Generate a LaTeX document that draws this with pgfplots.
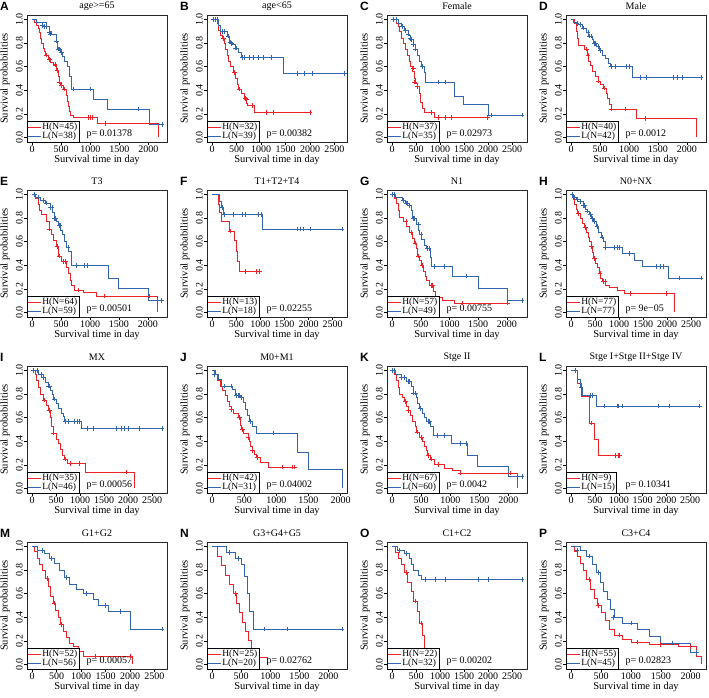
\documentclass[border=0pt]{standalone}
\usepackage{pgfplots}
\pgfplotsset{compat=1.18}
\usepackage{fontspec}
\setmainfont{Liberation Serif}
\newfontfamily\lsans{Liberation Sans}
\definecolor{kmred}{RGB}{235,35,40}
\definecolor{kmblue}{RGB}{50,100,175}
\pgfplotsset{
 km/.style={
  scale only axis, width=140pt, height=127pt, anchor=north west,
  ymin=-0.04, ymax=1.04, ytick={0,0.2,0.4,0.6,0.8,1},
  /pgf/number format/assume math mode=true,
  yticklabel style={rotate=90, anchor=south, inner sep=1pt, /pgf/number format/.cd, fixed, fixed zerofill, precision=1},
  xticklabel style={inner sep=0.5pt, /pgf/number format/.cd, 1000 sep={}},
  ticklabel style={font=\fontsize{10}{10}\selectfont},
  tick align=outside, xtick pos=bottom, ytick pos=left, major tick length=3pt,
  tick style={black, line width=0.5pt},
  axis line style={line width=0.6pt, black!85},
  clip=false,
  title style={font=\fontsize{10}{10}\selectfont, at={(axis description cs:0.5,1)}, anchor=center, yshift=3pt},
  xlabel={Survival time in day}, ylabel={Survival probabilities},
  label style={font=\fontsize{10.5}{10.5}\selectfont},
  xlabel style={at={(axis description cs:0.5,0)}, anchor=center, yshift=-18pt},
  ylabel style={at={(axis description cs:0,0.5)}, anchor=center, yshift=22pt},
  legend style={at={(0,0)}, anchor=south west, draw=black, fill=white, font=\fontsize{9.5}{9.5}\selectfont, inner sep=0.5pt, row sep=-1pt, nodes={inner sep=1pt}, cells={anchor=west}},
  legend image code/.code={\draw[#1] (0pt,0pt) -- (13pt,0pt);},
  every axis plot/.append style={line width=0.6pt},
 },
 hr/.style={color=kmred, draw=kmred, const plot},
 hb/.style={color=kmblue, draw=kmblue, const plot},
 mr/.style={kmred, only marks, mark=+, mark size=2.3pt, forget plot},
 mb/.style={kmblue, only marks, mark=+, mark size=2.3pt, forget plot},
 xa/.style={xtick={0,500,1000,1500,2000}},
 xb/.style={xtick={0,500,1000,1500,2000,2500}},
}
\newcommand{\pval}[1]{\node[anchor=west, font=\fontsize{10}{10}\selectfont] at (rel axis cs:0.4,0.06) {#1};}
\newcommand{\plab}[1]{\node[anchor=west, inner sep=0pt, font=\lsans\bfseries\fontsize{12}{12}\selectfont, xshift=-27pt, yshift=9pt] at (rel axis cs:0,1) {#1};}
\begin{document}
\begin{tikzpicture}
\useasboundingbox (0,0) rectangle (709pt,-698pt);
% ---------------- A
\begin{axis}[km, xa, at={(27pt,-15pt)}, xmin=-89, xmax=2319, title={age>=65}]
\addplot[hr] coordinates {(0,1)(45,0.975)(75,0.95)(100,0.93)(120,0.89)(140,0.84)(160,0.80)(185,0.76)(210,0.73)(230,0.70)(270,0.67)(320,0.64)(370,0.61)(420,0.57)(455,0.52)(470,0.47)(490,0.44)(540,0.41)(580,0.36)(600,0.31)(620,0.26)(640,0.22)(660,0.19)(700,0.17)(1120,0.115)(2170,0.0)};
\addlegendentry{H(N=45)}
\addplot[hb] coordinates {(0,1)(70,0.975)(250,0.94)(290,0.90)(330,0.88)(410,0.82)(430,0.76)(490,0.72)(520,0.69)(560,0.65)(600,0.60)(640,0.52)(670,0.41)(1050,0.32)(1300,0.24)(2020,0.11)(2230,0.11)};
\addlegendentry{L(N=38)}
\addplot[mr] coordinates {(250,0.70)(300,0.66)(390,0.62)(430,0.57)(470,0.47)(500,0.44)(560,0.41)(960,0.17)(1000,0.17)(1030,0.17)(1250,0.115)};
\addplot[mb] coordinates {(170,0.95)(200,0.94)(240,0.94)(300,0.89)(320,0.88)(420,0.82)(450,0.75)(470,0.75)(500,0.72)(700,0.41)(1000,0.41)(1820,0.24)(2230,0.11)};
\pval{p= 0.01378}\plab{A}
\end{axis}
% ---------------- B
\begin{axis}[km, xb, at={(207pt,-15pt)}, xmin=-106, xmax=2756, title={age<65}]
\addplot[hr] coordinates {(0,1)(100,0.97)(120,0.91)(160,0.87)(200,0.84)(240,0.80)(270,0.75)(300,0.70)(330,0.65)(370,0.60)(430,0.55)(470,0.50)(510,0.45)(540,0.41)(600,0.37)(650,0.33)(700,0.29)(720,0.27)(870,0.21)(2000,0.21)};
\addlegendentry{H(N=32)}
\addplot[hb] coordinates {(0,1)(130,0.95)(170,0.90)(300,0.86)(350,0.81)(420,0.79)(470,0.76)(530,0.72)(590,0.68)(1460,0.54)(2700,0.54)};
\addlegendentry{L(N=39)}
\addplot[mr] coordinates {(230,0.84)(450,0.55)(560,0.41)(680,0.33)(700,0.32)(830,0.27)(1100,0.21)(1250,0.21)(2000,0.21)};
\addplot[mb] coordinates {(30,1)(70,1)(100,1)(200,0.9)(250,0.9)(320,0.86)(370,0.81)(400,0.80)(480,0.76)(500,0.76)(620,0.68)(650,0.68)(760,0.68)(850,0.68)(950,0.68)(1050,0.68)(1200,0.68)(1750,0.54)(1880,0.54)(2050,0.54)(2700,0.54)};
\pval{p= 0.00382}\plab{B}
\end{axis}
% ---------------- C
\begin{axis}[km, xb, at={(387pt,-15pt)}, xmin=-108, xmax=2813, title={Female}]
\addplot[hr] coordinates {(0,1)(80,0.97)(120,0.94)(150,0.90)(190,0.84)(230,0.80)(270,0.75)(310,0.70)(350,0.65)(370,0.60)(430,0.56)(460,0.50)(490,0.46)(520,0.43)(560,0.37)(590,0.30)(620,0.25)(680,0.21)(870,0.17)(2000,0.17)};
\addlegendentry{H(N=37)}
\addplot[hb] coordinates {(0,1)(120,0.97)(200,0.94)(260,0.91)(330,0.87)(380,0.83)(440,0.79)(480,0.75)(520,0.70)(560,0.65)(600,0.60)(660,0.55)(690,0.47)(1300,0.35)(1480,0.28)(2010,0.19)(2705,0.19)};
\addlegendentry{L(N=35)}
\addplot[mr] coordinates {(440,0.59)(470,0.47)(530,0.43)(810,0.21)(960,0.17)(1100,0.17)(1230,0.17)(1990,0.17)};
\addplot[mb] coordinates {(20,1)(80,1)(220,0.94)(280,0.91)(330,0.88)(370,0.84)(400,0.83)(450,0.79)(490,0.75)(620,0.60)(960,0.47)(1100,0.47)(2060,0.19)(2705,0.19)};
\pval{p= 0.02973}\plab{C}
\end{axis}
% ---------------- D
\begin{axis}[km, xa, at={(566pt,-15pt)}, xmin=-90, xmax=2330, title={Male}]
\addplot[hr] coordinates {(0,1)(60,0.97)(90,0.90)(110,0.84)(130,0.78)(230,0.75)(270,0.70)(300,0.65)(330,0.61)(360,0.56)(420,0.52)(460,0.48)(510,0.45)(560,0.42)(600,0.37)(630,0.33)(660,0.28)(690,0.24)(1120,0.16)(2170,0.0)};
\addlegendentry{H(N=40)}
\addplot[hb] coordinates {(0,1)(40,0.98)(100,0.96)(200,0.93)(260,0.89)(300,0.86)(360,0.83)(390,0.80)(440,0.77)(480,0.74)(530,0.70)(590,0.67)(640,0.63)(680,0.60)(1050,0.51)(2240,0.51)};
\addlegendentry{L(N=42)}
\addplot[mr] coordinates {(260,0.75)(290,0.70)(470,0.48)(570,0.42)(700,0.24)(940,0.24)(1280,0.16)};
\addplot[mb] coordinates {(100,0.97)(150,0.96)(210,0.93)(290,0.89)(320,0.86)(340,0.86)(400,0.80)(420,0.80)(460,0.77)(500,0.74)(700,0.60)(760,0.60)(950,0.60)(1000,0.60)(1200,0.51)(1300,0.51)(1770,0.51)(1830,0.51)(1920,0.51)(2240,0.51)};
\pval{p= 0.0012}\plab{D}
\end{axis}
% ---------------- E
\begin{axis}[km, xa, at={(27pt,-190pt)}, xmin=-90, xmax=2330, title={T3}]
\addplot[hr] coordinates {(0,1)(60,0.97)(100,0.92)(130,0.87)(150,0.83)(250,0.77)(290,0.71)(330,0.66)(370,0.61)(420,0.56)(450,0.48)(500,0.43)(590,0.38)(620,0.33)(650,0.27)(680,0.23)(730,0.19)(880,0.17)(1110,0.14)(2170,0.0)};
\addlegendentry{H(N=64)}
\addplot[hb] coordinates {(0,1)(60,0.98)(140,0.95)(230,0.93)(310,0.89)(350,0.85)(380,0.80)(420,0.77)(450,0.74)(490,0.70)(520,0.66)(550,0.60)(590,0.55)(630,0.52)(680,0.40)(1310,0.29)(1480,0.20)(2000,0.10)(2240,0.10)};
\addlegendentry{L(N=59)}
\addplot[mr] coordinates {(300,0.71)(430,0.56)(460,0.48)(540,0.43)(580,0.43)(800,0.19)(1250,0.14)(2030,0.14)};
\addplot[mb] coordinates {(40,1)(100,0.98)(200,0.95)(250,0.93)(320,0.89)(340,0.89)(380,0.80)(400,0.80)(460,0.74)(480,0.74)(620,0.55)(760,0.40)(900,0.40)(950,0.40)(2240,0.10)};
\pval{p= 0.00501}\plab{E}
\end{axis}
% ---------------- F
\begin{axis}[km, xb, at={(207pt,-190pt)}, xmin=-108, xmax=2798, title={T1+T2+T4}]
\addplot[hr] coordinates {(0,1)(120,0.92)(150,0.85)(190,0.77)(360,0.69)(460,0.61)(490,0.52)(530,0.43)(570,0.345)(980,0.345)};
\addlegendentry{H(N=13)}
\addplot[hb] coordinates {(0,1)(150,0.94)(190,0.89)(225,0.83)(1050,0.71)(2690,0.71)};
\addlegendentry{L(N=18)}
\addplot[mr] coordinates {(380,0.69)(690,0.345)(920,0.345)(980,0.345)};
\addplot[mb] coordinates {(200,0.89)(260,0.83)(430,0.83)(630,0.83)(680,0.83)(950,0.83)(1010,0.83)(1760,0.71)(1820,0.71)(1900,0.71)(2040,0.71)(2690,0.71)};
\pval{p= 0.02255}\plab{F}
\end{axis}
% ---------------- G
\begin{axis}[km, xa, at={(387pt,-190pt)}, xmin=-90, xmax=2350, title={N1}]
\addplot[hr] coordinates {(0,1)(40,0.97)(70,0.93)(100,0.87)(130,0.81)(200,0.77)(250,0.73)(300,0.68)(350,0.63)(390,0.59)(420,0.54)(445,0.48)(480,0.44)(510,0.40)(540,0.35)(570,0.31)(600,0.27)(640,0.23)(720,0.18)(760,0.13)(880,0.10)(1080,0.08)(2010,0.08)};
\addlegendentry{H(N=57)}
\addplot[hb] coordinates {(0,1)(60,0.98)(170,0.95)(230,0.93)(290,0.91)(330,0.87)(350,0.80)(420,0.75)(450,0.70)(480,0.66)(510,0.62)(560,0.57)(600,0.54)(660,0.47)(690,0.39)(1040,0.31)(1500,0.20)(2010,0.10)(2260,0.10)};
\addlegendentry{L(N=49)}
\addplot[mr] coordinates {(240,0.77)(330,0.68)(400,0.59)(460,0.48)(520,0.40)(680,0.23)(700,0.23)(1220,0.08)(2010,0.08)};
\addplot[mb] coordinates {(10,1)(30,1)(200,0.95)(240,0.93)(270,0.93)(300,0.91)(360,0.80)(380,0.80)(460,0.75)(500,0.66)(620,0.54)(640,0.54)(740,0.39)(900,0.39)(1300,0.31)(2260,0.10)};
\pval{p= 0.00755}\plab{G}
\end{axis}
% ---------------- H
\begin{axis}[km, xb, at={(566pt,-190pt)}, xmin=-108, xmax=2808, title={N0+NX}]
\addplot[hr] coordinates {(0,1)(40,0.96)(70,0.92)(100,0.88)(130,0.84)(180,0.80)(230,0.76)(280,0.72)(320,0.68)(350,0.64)(380,0.60)(410,0.56)(440,0.51)(460,0.46)(500,0.42)(540,0.38)(580,0.33)(610,0.29)(650,0.26)(720,0.23)(800,0.21)(950,0.19)(1100,0.16)(2150,0.0)};
\addlegendentry{H(N=77)}
\addplot[hb] coordinates {(0,1)(40,0.98)(100,0.96)(180,0.94)(250,0.91)(290,0.88)(330,0.86)(380,0.83)(420,0.80)(460,0.77)(520,0.73)(570,0.68)(620,0.64)(660,0.60)(700,0.55)(1070,0.50)(1310,0.44)(1480,0.39)(2030,0.29)(2700,0.29)};
\addlegendentry{L(N=77)}
\addplot[mr] coordinates {(150,0.84)(300,0.72)(420,0.56)(480,0.46)(600,0.33)(670,0.26)(700,0.26)(1240,0.16)(1990,0.16)};
\addplot[mb] coordinates {(20,1)(60,0.98)(120,0.96)(200,0.94)(250,0.91)(280,0.91)(340,0.86)(400,0.83)(430,0.80)(450,0.80)(480,0.77)(540,0.73)(640,0.64)(720,0.55)(900,0.55)(950,0.55)(1000,0.55)(1200,0.50)(1770,0.39)(1850,0.39)(1920,0.39)(2260,0.29)(2700,0.29)};
\pval{p= 9e−05}\plab{H}
\end{axis}
% ---------------- I
\begin{axis}[km, xb, at={(27pt,-366pt)}, xmin=-108, xmax=2808, title={MX}]
\addplot[hr] coordinates {(0,1)(60,0.97)(90,0.92)(130,0.86)(170,0.80)(230,0.75)(300,0.71)(340,0.66)(370,0.60)(400,0.53)(440,0.47)(500,0.42)(540,0.38)(580,0.33)(620,0.28)(670,0.25)(740,0.21)(1110,0.14)(2130,0.0)};
\addlegendentry{H(N=35)}
\addplot[hb] coordinates {(0,1)(120,0.97)(200,0.94)(280,0.90)(330,0.87)(370,0.83)(410,0.80)(450,0.76)(500,0.72)(550,0.68)(600,0.64)(640,0.61)(670,0.57)(1030,0.51)(2700,0.51)};
\addlegendentry{L(N=46)}
\addplot[mr] coordinates {(250,0.75)(360,0.66)(450,0.47)(700,0.25)(800,0.21)(980,0.21)(1960,0.14)};
\addplot[mb] coordinates {(30,1)(100,1)(200,0.97)(240,0.94)(340,0.87)(360,0.87)(460,0.76)(700,0.57)(750,0.57)(880,0.57)(950,0.57)(990,0.57)(1150,0.51)(1280,0.51)(1750,0.51)(1850,0.51)(1920,0.51)(2000,0.51)(2230,0.51)(2700,0.51)};
\pval{p= 0.00056}\plab{I}
\end{axis}
% ---------------- J
\begin{axis}[km, xa, at={(207pt,-366pt)}, xmin=-81, xmax=2101, title={M0+M1}]
\addplot[hr] coordinates {(0,1)(50,0.97)(80,0.92)(120,0.87)(160,0.83)(200,0.79)(230,0.74)(260,0.70)(290,0.67)(330,0.64)(400,0.60)(440,0.54)(460,0.50)(490,0.47)(560,0.43)(580,0.40)(600,0.36)(620,0.32)(650,0.29)(690,0.26)(750,0.22)(880,0.18)(1280,0.18)};
\addlegendentry{H(N=42)}
\addplot[hb] coordinates {(0,1)(30,0.97)(100,0.93)(140,0.87)(320,0.84)(360,0.79)(440,0.77)(480,0.73)(520,0.67)(550,0.62)(580,0.57)(630,0.53)(680,0.47)(1320,0.31)(1490,0.16)(2020,0.0)};
\addlegendentry{L(N=31)}
\addplot[mr] coordinates {(300,0.67)(430,0.60)(470,0.50)(560,0.43)(620,0.32)(700,0.26)(1090,0.18)(1250,0.18)(1280,0.18)};
\addplot[mb] coordinates {(40,0.97)(190,0.87)(290,0.87)(380,0.79)(400,0.79)(420,0.79)(460,0.77)(600,0.57)(960,0.47)};
\pval{p= 0.04002}\plab{J}
\end{axis}
% ---------------- K
\begin{axis}[km, xa, at={(387pt,-366pt)}, xmin=-89, xmax=2319, title={Stge II}]
\addplot[hr] coordinates {(0,1)(40,0.97)(70,0.92)(100,0.86)(130,0.80)(180,0.77)(210,0.74)(240,0.70)(270,0.66)(320,0.62)(350,0.57)(390,0.53)(420,0.48)(470,0.43)(520,0.40)(550,0.36)(580,0.32)(610,0.28)(660,0.25)(720,0.20)(890,0.17)(1040,0.15)(1170,0.13)(2150,0.0)};
\addlegendentry{H(N=67)}
\addplot[hb] coordinates {(0,1)(60,0.97)(150,0.94)(240,0.91)(330,0.87)(360,0.81)(410,0.77)(440,0.72)(470,0.68)(520,0.64)(550,0.60)(590,0.57)(650,0.53)(700,0.45)(1010,0.38)(1300,0.28)(1470,0.19)(2000,0.10)(2230,0.10)};
\addlegendentry{L(N=60)}
\addplot[mr] coordinates {(230,0.74)(280,0.66)(430,0.48)(500,0.43)(620,0.28)(680,0.25)(800,0.20)(1180,0.13)(2040,0.13)};
\addplot[mb] coordinates {(10,1)(30,1)(150,0.94)(200,0.94)(270,0.91)(290,0.91)(370,0.81)(400,0.81)(480,0.68)(620,0.57)(640,0.57)(780,0.45)(900,0.45)(1170,0.38)(1270,0.38)(2230,0.10)};
\pval{p= 0.0042}\plab{K}
\end{axis}
% ---------------- L
\begin{axis}[km, xb, at={(566pt,-366pt)}, xmin=-109, xmax=2834, title={Stge I+Stge II+Stge IV}]
\addplot[hr] coordinates {(0,1)(125,0.89)(220,0.78)(385,0.555)(480,0.415)(570,0.28)(1010,0.28)};
\addlegendentry{H(N=9)}
\addplot[hb] coordinates {(0,1)(135,0.93)(190,0.86)(225,0.79)(530,0.70)(2700,0.70)};
\addlegendentry{L(N=15)}
\addplot[mr] coordinates {(430,0.555)(920,0.28)(980,0.28)(1010,0.28)};
\addplot[mb] coordinates {(90,1)(210,0.86)(400,0.79)(440,0.79)(690,0.70)(970,0.70)(1000,0.70)(1080,0.70)(1830,0.70)(2070,0.70)(2700,0.70)};
\pval{p= 0.10341}\plab{L}
\end{axis}
% ---------------- M
\begin{axis}[km, xb, at={(27pt,-542pt)}, xmin=-106, xmax=2756, title={G1+G2}]
\addplot[hr] coordinates {(0,1)(50,0.96)(100,0.90)(150,0.85)(200,0.80)(260,0.73)(320,0.66)(380,0.58)(430,0.52)(480,0.46)(530,0.40)(580,0.34)(640,0.28)(700,0.23)(760,0.18)(850,0.15)(950,0.11)(1050,0.07)(2050,0.0)};
\addlegendentry{H(N=52)}
\addplot[hb] coordinates {(0,1)(100,0.97)(250,0.94)(350,0.90)(450,0.86)(550,0.80)(650,0.74)(750,0.68)(900,0.64)(1050,0.60)(1250,0.55)(1350,0.50)(1550,0.45)(2000,0.30)(2650,0.30)};
\addlegendentry{L(N=56)}
\addplot[mr] coordinates {(300,0.73)(450,0.52)(600,0.34)(1300,0.07)(2000,0.07)};
\addplot[mb] coordinates {(200,0.97)(400,0.90)(700,0.74)(1100,0.60)(1500,0.50)(1800,0.45)(2650,0.30)};
\pval{p= 0.00057}\plab{M}
\end{axis}
% ---------------- N
\begin{axis}[km, xa, at={(207pt,-542pt)}, xmin=-89, xmax=2319, title={G3+G4+G5}]
\addplot[hr] coordinates {(0,1)(80,0.92)(150,0.84)(220,0.76)(300,0.68)(360,0.60)(420,0.52)(470,0.44)(520,0.36)(570,0.28)(620,0.20)(680,0.12)(750,0.06)(950,0.0)};
\addlegendentry{H(N=25)}
\addplot[hb] coordinates {(0,1)(250,0.95)(400,0.90)(500,0.85)(560,0.75)(600,0.60)(640,0.45)(700,0.30)(2230,0.30)};
\addlegendentry{L(N=20)}
\addplot[mr] coordinates {(400,0.60)(700,0.12)};
\addplot[mb] coordinates {(300,0.95)(450,0.90)(900,0.30)(1300,0.30)(2230,0.30)};
\pval{p= 0.02762}\plab{N}
\end{axis}
% ---------------- O
\begin{axis}[km, xb, at={(387pt,-542pt)}, xmin=-108, xmax=2808, title={C1+C2}]
\addplot[hr] coordinates {(0,1)(60,0.95)(120,0.90)(180,0.85)(250,0.78)(320,0.70)(400,0.62)(450,0.54)(520,0.45)(570,0.35)(620,0.25)(660,0.12)(700,0.0)};
\addlegendentry{H(N=22)}
\addplot[hb] coordinates {(0,1)(100,0.97)(250,0.94)(350,0.90)(400,0.85)(450,0.80)(550,0.76)(600,0.72)(2700,0.72)};
\addlegendentry{L(N=32)}
\addplot[mr] coordinates {(300,0.78)(480,0.54)(600,0.35)};
\addplot[mb] coordinates {(150,0.97)(300,0.94)(700,0.72)(900,0.72)(1100,0.72)(1800,0.72)(2000,0.72)(2700,0.72)};
\pval{p= 0.00202}\plab{O}
\end{axis}
% ---------------- P
\begin{axis}[km, xa, at={(566pt,-542pt)}, xmin=-87, xmax=2257, title={C3+C4}]
\addplot[hr] coordinates {(0,1)(50,0.96)(100,0.92)(150,0.86)(200,0.80)(260,0.72)(320,0.64)(380,0.56)(440,0.50)(500,0.44)(570,0.37)(640,0.30)(720,0.25)(850,0.21)(1000,0.19)(1300,0.17)(1800,0.15)(2100,0.07)(2170,0.0)};
\addlegendentry{H(N=55)}
\addplot[hb] coordinates {(0,1)(150,0.97)(250,0.92)(350,0.85)(420,0.78)(480,0.70)(540,0.62)(600,0.55)(660,0.47)(720,0.40)(850,0.35)(1100,0.30)(1300,0.24)(1500,0.18)(2000,0.10)(2100,0.10)};
\addlegendentry{L(N=45)}
\addplot[mr] coordinates {(300,0.72)(450,0.50)(800,0.25)(1100,0.19)(1500,0.17)(2000,0.15)};
\addplot[mb] coordinates {(100,0.97)(300,0.92)(450,0.78)(700,0.40)(1000,0.35)(1700,0.18)(2100,0.10)};
\pval{p= 0.02823}\plab{P}
\end{axis}
\end{tikzpicture}
\end{document}
